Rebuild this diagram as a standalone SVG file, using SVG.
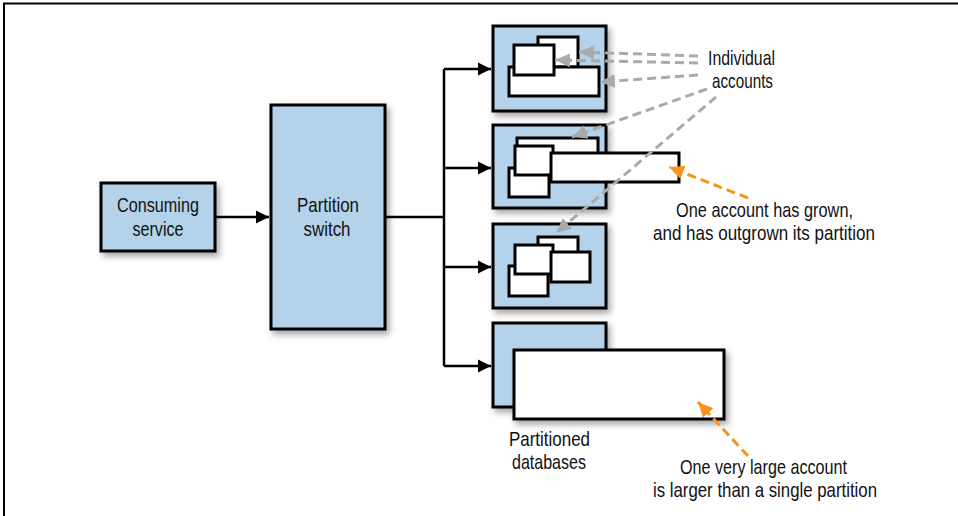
<svg xmlns="http://www.w3.org/2000/svg" width="958" height="516" viewBox="0 0 958 516">
<defs>
<filter id="sh" x="-20%" y="-20%" width="150%" height="150%">
<feDropShadow dx="3" dy="4" stdDeviation="3" flood-color="#000" flood-opacity="0.35"/>
</filter>
<marker id="ab" markerUnits="userSpaceOnUse" markerWidth="14" markerHeight="14" refX="13" refY="7" orient="auto">
<path d="M0,0.5 L13,7 L0,13.5 z" fill="#000"/>
</marker>
<marker id="ag" markerUnits="userSpaceOnUse" markerWidth="16" markerHeight="16" refX="15" refY="8" orient="auto">
<path d="M0,1 L15,8 L0,15 z" fill="#aaa"/>
</marker>
<marker id="ao" markerUnits="userSpaceOnUse" markerWidth="16" markerHeight="16" refX="15" refY="8" orient="auto">
<path d="M0,1 L15,8 L0,15 z" fill="#f7941d"/>
</marker>
</defs>
<style>
.node{fill:#b4d3ea;stroke:#000;stroke-width:3;filter:url(#sh)}
.acc{fill:#fff;stroke:#000;stroke-width:3}
.big{fill:#fff;stroke:#000;stroke-width:3;filter:url(#sh)}
.t{font-family:"Liberation Sans",Arial,sans-serif;font-size:21px;fill:#111}
.c{text-anchor:middle}
.conn{fill:none;stroke:#000;stroke-width:2.5}
.g{fill:none;stroke:#aaa;stroke-width:3;stroke-dasharray:9 5}
.o{fill:none;stroke:#f7941d;stroke-width:3;stroke-dasharray:9 5}
.frame{stroke:#000;stroke-width:2;fill:none}
</style>
<path class="frame" d="M4,516 V3.5 H958"/>

<g id="connectors">
<line class="conn" x1="216" y1="217" x2="269" y2="217" marker-end="url(#ab)"/>
<path class="conn" d="M386,217 H444"/>
<path class="conn" d="M444,69 V366"/>
<line class="conn" x1="444" y1="69" x2="491" y2="69" marker-end="url(#ab)"/>
<line class="conn" x1="444" y1="168" x2="491" y2="168" marker-end="url(#ab)"/>
<line class="conn" x1="444" y1="267" x2="491" y2="267" marker-end="url(#ab)"/>
<line class="conn" x1="444" y1="366" x2="491" y2="366" marker-end="url(#ab)"/>
</g>

<g id="consuming-service">
<rect class="node" x="101" y="183" width="114" height="68"/>
<text class="t c" x="158" y="212" textLength="82" lengthAdjust="spacingAndGlyphs">Consuming</text>
<text class="t c" x="158" y="236" textLength="51" lengthAdjust="spacingAndGlyphs">service</text>
</g>

<g id="partition-switch">
<rect class="node" x="271" y="105" width="114" height="224"/>
<text class="t c" x="328" y="212" textLength="62" lengthAdjust="spacingAndGlyphs">Partition</text>
<text class="t c" x="327" y="236" textLength="47" lengthAdjust="spacingAndGlyphs">switch</text>
</g>

<g id="db1">
<rect class="node" x="493" y="26" width="113" height="85"/>
<rect class="acc" x="538" y="37" width="40" height="30"/>
<rect class="acc" x="509" y="67" width="90" height="29"/>
<rect class="acc" x="514" y="45" width="40" height="30"/>
</g>

<g id="db2">
<rect class="node" x="493" y="125" width="113" height="83"/>
<rect class="acc" x="517" y="138" width="81" height="30"/>
<rect class="acc" x="509" y="168" width="40" height="29"/>
<rect class="acc" x="515" y="146" width="38" height="29"/>
<rect class="acc" x="551" y="153" width="128" height="29"/>
</g>

<g id="db3">
<rect class="node" x="493" y="224" width="113" height="84"/>
<rect class="acc" x="538" y="237" width="40" height="30"/>
<rect class="acc" x="509" y="266" width="39" height="30"/>
<rect class="acc" x="515" y="245" width="38" height="29"/>
<rect class="acc" x="551" y="252" width="39" height="30"/>
</g>

<g id="db4">
<rect class="node" x="493" y="323" width="113" height="84"/>
<rect class="big" x="514" y="350" width="210" height="69"/>
</g>

<g id="labels">
<text class="t c" x="549.5" y="446" textLength="81" lengthAdjust="spacingAndGlyphs">Partitioned</text>
<text class="t c" x="549" y="469" textLength="74" lengthAdjust="spacingAndGlyphs">databases</text>
<text class="t c" x="741.5" y="65" textLength="67" lengthAdjust="spacingAndGlyphs">Individual</text>
<text class="t c" x="742.5" y="88" textLength="61" lengthAdjust="spacingAndGlyphs">accounts</text>
<text class="t c" x="764.5" y="217" textLength="177" lengthAdjust="spacingAndGlyphs">One account has grown,</text>
<text class="t c" x="764" y="240" textLength="222" lengthAdjust="spacingAndGlyphs">and has outgrown its partition</text>
<text class="t c" x="763.5" y="474" textLength="167" lengthAdjust="spacingAndGlyphs">One very large account</text>
<text class="t c" x="765" y="497" textLength="224" lengthAdjust="spacingAndGlyphs">is larger than a single partition</text>
</g>

<g id="annotations">
<line class="g" x1="698" y1="56" x2="579" y2="52" marker-end="url(#ag)"/>
<line class="g" x1="698" y1="63" x2="555" y2="60" marker-end="url(#ag)"/>
<line class="g" x1="698" y1="75" x2="600" y2="82" marker-end="url(#ag)"/>
<line class="g" x1="707" y1="89" x2="572" y2="137" marker-end="url(#ag)"/>
<line class="g" x1="716" y1="97" x2="556" y2="233" marker-end="url(#ag)"/>
<line class="o" x1="748" y1="198" x2="669" y2="167" marker-end="url(#ao)"/>
<line class="o" x1="748" y1="456" x2="698" y2="402" marker-end="url(#ao)"/>
</g>
</svg>
